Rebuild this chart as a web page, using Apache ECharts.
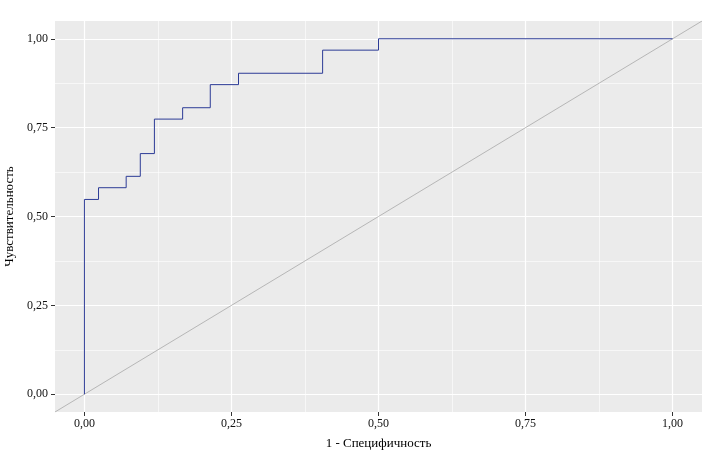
<!DOCTYPE html>
<html>
<head>
<meta charset="utf-8">
<script src="https://cdn.jsdelivr.net/npm/echarts@6/dist/echarts.min.js"></script>
<style>
  html, body { margin: 0; padding: 0; background: #fff; }
  #main { width: 709px; height: 462px; }
</style>
</head>
<body>
<div id="main"></div>
<script>
// ROC curve: 1 - specificity vs sensitivity (corner points of the step curve)
const fpr = [0, 0, 0.024, 0.071, 0.095, 0.119, 0.167, 0.214, 0.262, 0.405, 0.5, 1];
const tpr = [0, 0.548, 0.581, 0.613, 0.677, 0.774, 0.806, 0.871, 0.903, 0.968, 1, 1];
// reference diagonal (slope 1), across the whole panel
const diag = [-0.05, 1.05];
const majorTicks = [0, 0.25, 0.5, 0.75, 1];
const minorTicks = [0.125, 0.375, 0.625, 0.875];

const fmt = v => v.toFixed(2).replace('.', ',');
const font = 'Liberation Serif';

const rocData = fpr.map((x, i) => [x, tpr[i]]);
const diagData = diag.map(v => [v, v]);

function axisPair(dir) {
  const pos = dir === 'x' ? 'bottom' : 'left';
  const major = {
    type: 'value', min: -0.05, max: 1.05, position: pos,
    axisLine: { show: false, onZero: false },
    axisTick: { show: true, length: 4, customValues: majorTicks, lineStyle: { color: '#333', width: 1 } },
    axisLabel: { customValues: majorTicks, formatter: fmt, margin: dir === 'x' ? 6 : 7, color: '#111', fontFamily: font, fontSize: 12 },
    splitLine: { show: true, lineStyle: { color: '#fff', width: 1.2 } },
    nameLocation: 'middle',
    nameTextStyle: { color: '#000', fontFamily: font, fontSize: 13 }
  };
  const minor = {
    type: 'value', min: -0.05, max: 1.05, position: pos,
    axisLine: { show: false, onZero: false },
    axisTick: { show: false, customValues: minorTicks },
    axisLabel: { show: false, customValues: minorTicks },
    splitLine: { show: true, lineStyle: { color: '#fff', width: 0.6 } }
  };
  if (dir === 'x') {
    major.name = '1 - Специфичность';
    major.nameGap = 25;
  } else {
    major.name = 'Чувствительность';
    major.nameGap = 35;
  }
  return [minor, major];
}

const chart = echarts.init(document.getElementById('main'), null, { renderer: 'canvas' });
chart.setOption({
  animation: false,
  backgroundColor: '#fff',
  grid: {
    left: 55, right: 7, top: 21, bottom: 50,
    show: true, backgroundColor: '#EBEBEB', borderWidth: 0,
    containLabel: false, outerBoundsMode: 'none'
  },
  xAxis: axisPair('x'),
  yAxis: axisPair('y'),
  series: [
    {
      type: 'line', xAxisIndex: 1, yAxisIndex: 1,
      data: diagData, symbol: 'none',
      lineStyle: { color: '#a8a8a8', width: 0.8 }
    },
    {
      type: 'line', xAxisIndex: 1, yAxisIndex: 1,
      data: rocData, step: 'end', symbol: 'none',
      lineStyle: { color: '#2c3b96', width: 1 }
    }
  ]
});
</script>
</body>
</html>
